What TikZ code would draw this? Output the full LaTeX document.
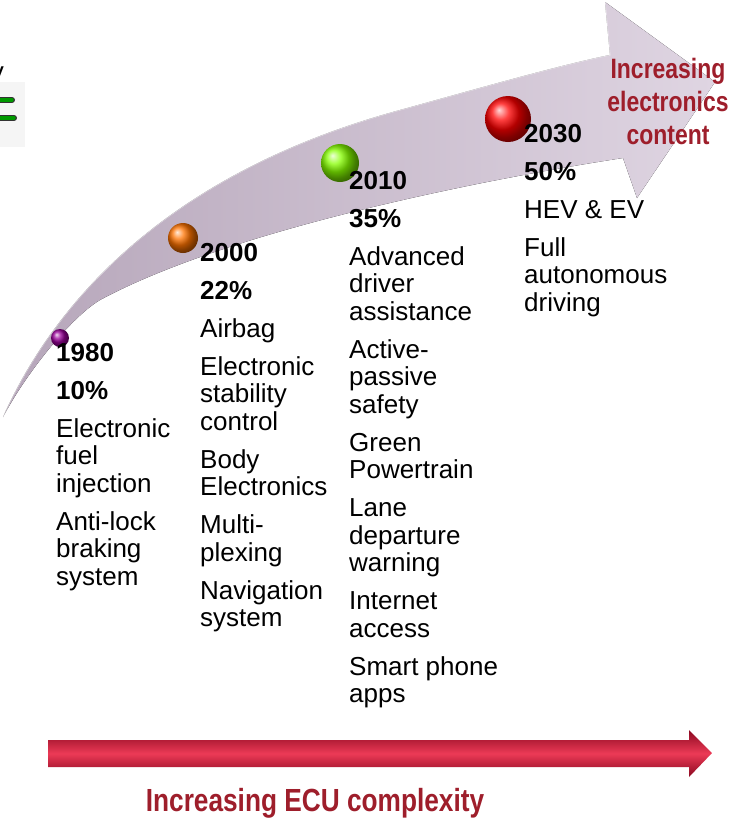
\documentclass[tikz,border=0pt]{standalone}
\usepackage{fontspec}
\setmainfont{Liberation Sans}
\newfontfamily\narrowbold[FakeStretch=0.82]{Liberation Sans Bold}
\usepackage{xcolor}
\usetikzlibrary{positioning,calc}
\tikzset{>=latex}

\definecolor{arrowdark}{HTML}{B6A6BA}
\definecolor{arrowlight}{HTML}{DFD5E2}
\definecolor{ecudark}{HTML}{8A0820}
\definecolor{ecuhi}{HTML}{EC3A56}
\definecolor{labelred}{HTML}{9E1E2B}

\tikzset{
	era/.style={anchor=base west, inner sep=0pt, font=\fontsize{26}{27.5}\selectfont},
	dot/.style={circle, inner sep=0pt, shading=ball},
	redlabel/.style={text=labelred, inner sep=0pt, align=center}
}
\newcommand{\eralist}[1]{\begin{tabular}[t]{@{}l@{}}#1\end{tabular}}

\begin{document}
\begin{tikzpicture}[x=1pt, y=-1pt]

\def\gap{10.5pt}

\useasboundingbox (0,0) rectangle (732,822);

% Cut-off piece at the left edge
\fill[black!4] (0,82) rectangle (25,147);
\node[anchor=base east, inner sep=0pt, font=\fontsize{26}{27.5}\selectfont] (cut) at (4,80) {y};
\draw[black!80, line width=6pt, line cap=round] (0,100) -- (12,100) (0,118) -- (14,118);
\draw[green!60!black, line width=3.5pt, line cap=round] (0,100) -- (12,100) (0,118) -- (14,118);

% Curved arrow
\fill[left color=arrowdark, right color=arrowlight] (3,417) .. controls (60,290) and (180,170) .. (400,110) .. controls (480,88) and (560,65) .. (610,55) -- (605,2) -- (715,82) -- (637,198) -- (623,158) .. controls (480,180) and (230,230) .. (100,300) .. controls (70,318) and (25,375) .. (3,417) -- cycle;
\draw[white, opacity=.5, line width=1pt] (3,417) .. controls (60,290) and (180,170) .. (400,110) .. controls (480,88) and (560,65) .. (610,55) -- (605,2);

% Spheres
\node[dot, ball color=violet!80!magenta, minimum size=18pt] (b1980) at (60,338) {};
\node[dot, ball color=orange!90!red, minimum size=30pt] (b2000) at (183,238) {};
\node[dot, ball color=lime!70!green, minimum size=38pt] (b2010) at (340,163) {};
\node[dot, ball color=red, minimum size=46pt] (b2030) at (508,119) {};

% Columns
\node[era] (e1980) at (56,361) {\eralist{\textbf{1980}\\[\gap]\textbf{10\%}\\[\gap]Electronic\\fuel\\injection\\[\gap]Anti-lock\\braking\\system}};
\node[era] (e2000) at (200,261) {\eralist{\textbf{2000}\\[\gap]\textbf{22\%}\\[\gap]Airbag\\[\gap]Electronic\\stability\\control\\[\gap]Body\\Electronics\\[\gap]Multi-\\plexing\\[\gap]Navigation\\system}};
\node[era] (e2010) at (349,189) {\eralist{\textbf{2010}\\[\gap]\textbf{35\%}\\[\gap]Advanced\\driver\\assistance\\[\gap]Active-\\passive\\safety\\[\gap]Green\\Powertrain\\[\gap]Lane\\departure\\warning\\[\gap]Internet\\access\\[\gap]Smart phone\\apps}};
\node[era] (e2030) at (524,142) {\eralist{\textbf{2030}\\[\gap]\textbf{50\%}\\[\gap]HEV \& EV\\[\gap]Full\\autonomous\\driving}};

\node[redlabel, font=\narrowbold\fontsize{28}{33}\selectfont] (content) at (668,101) {Increasing\\electronics\\content};

% Straight arrow
\shade[top color=ecudark, bottom color=ecudark, middle color=ecuhi] (48,740) -- (689,740) -- (689,730) -- (712,753) -- (689,777) -- (689,767) -- (48,767) -- cycle;

\node[redlabel, font=\narrowbold\fontsize{32}{36}\selectfont] (ecu) at (315,803) {Increasing ECU complexity};

\end{tikzpicture}
\end{document}
